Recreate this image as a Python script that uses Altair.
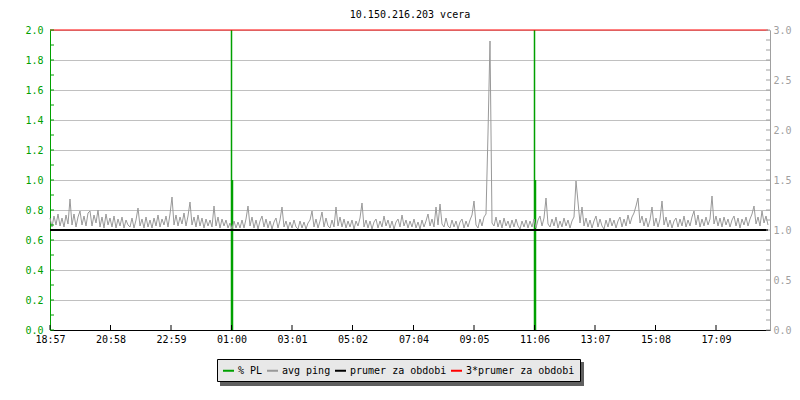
import altair as alt
import pandas as pd

FONT = "DejaVu Sans Mono"
title_text = "10.150.216.203 vcera"

# time axis
start_time = "2000-01-01 18:57"
tick_labels = ["18:57", "20:58", "22:59", "01:00", "03:01", "05:02",
               "07:04", "09:05", "11:06", "13:07", "15:08", "17:09"]
sample_step_min = 4

# avg ping (right axis units), one value every 4 minutes from 18:57
ping_ms = [
    1.12, 1.03, 1.14, 1.05, 1.16, 1.04, 1.12, 1.03, 1.15, 1.06,
    1.31, 1.05, 1.16, 1.03, 1.13, 1.19, 1.05, 1.14, 1.04, 1.17,
    1.19, 1.04, 1.15, 1.07, 1.20, 1.03, 1.13, 1.02, 1.16, 1.05,
    1.12, 1.03, 1.14, 1.02, 1.11, 1.04, 1.13, 1.02, 1.10, 1.05,
    1.03, 1.12, 1.02, 1.10, 1.22, 1.04, 1.11, 1.02, 1.13, 1.03,
    1.10, 1.02, 1.12, 1.04, 1.15, 1.03, 1.11, 1.05, 1.14, 1.03,
    1.16, 1.33, 1.05, 1.15, 1.04, 1.13, 1.06, 1.17, 1.04, 1.14,
    1.28, 1.05, 1.13, 1.03, 1.15, 1.04, 1.12, 1.02, 1.11, 1.04,
    1.10, 1.03, 1.24, 1.04, 1.13, 1.02, 1.11, 1.04, 1.10, 1.02,
    1.07, 1.01, 1.09, 1.02, 1.08, 1.02, 1.10, 1.02, 1.11, 1.24,
    1.04, 1.13, 1.02, 1.10, 1.01, 1.09, 1.14, 1.03, 1.11, 1.02,
    1.09, 1.01, 1.08, 1.12, 1.02, 1.10, 1.23, 1.03, 1.09, 1.01,
    1.08, 1.02, 1.10, 1.03, 1.01, 1.09, 1.02, 1.08, 1.01, 1.07,
    1.10, 1.19, 1.03, 1.11, 1.02, 1.09, 1.18, 1.03, 1.12, 1.04,
    1.02, 1.10, 1.03, 1.23, 1.04, 1.13, 1.03, 1.11, 1.02, 1.09,
    1.03, 1.10, 1.01, 1.09, 1.04, 1.12, 1.27, 1.03, 1.10, 1.02,
    1.09, 1.01, 1.08, 1.11, 1.02, 1.09, 1.03, 1.14, 1.04, 1.10,
    1.02, 1.09, 1.01, 1.08, 1.11, 1.03, 1.15, 1.04, 1.10, 1.02,
    1.09, 1.03, 1.11, 1.02, 1.08, 1.01, 1.10, 1.03, 1.09, 1.16,
    1.04, 1.11, 1.03, 1.23, 1.05, 1.26, 1.06, 1.03, 1.12, 1.04,
    1.02, 1.10, 1.03, 1.09, 1.01, 1.08, 1.11, 1.02, 1.09, 1.03,
    1.10, 1.15, 1.29, 1.05, 1.02, 1.11, 1.04, 1.13, 1.16, 1.97,
    2.89, 1.07, 1.04, 1.13, 1.03, 1.10, 1.02, 1.12, 1.04, 1.09,
    1.02, 1.10, 1.03, 1.11, 1.04, 1.01, 1.09, 1.03, 1.10, 1.02,
    1.09, 1.03, 1.11, 1.02, 1.10, 1.14, 1.04, 1.12, 1.32, 1.06,
    1.03, 1.11, 1.04, 1.13, 1.02, 1.09, 1.03, 1.12, 1.04, 1.10,
    1.02, 1.09, 1.13, 1.49, 1.28, 1.07, 1.23, 1.04, 1.12, 1.03,
    1.10, 1.02, 1.09, 1.14, 1.03, 1.11, 1.04, 1.01, 1.10, 1.03,
    1.12, 1.04, 1.10, 1.02, 1.09, 1.13, 1.03, 1.11, 1.04, 1.15,
    1.06, 1.13, 1.17, 1.24, 1.32, 1.07, 1.14, 1.04, 1.12, 1.03,
    1.10, 1.23, 1.04, 1.12, 1.03, 1.11, 1.29, 1.05, 1.13, 1.03,
    1.10, 1.02, 1.09, 1.12, 1.03, 1.11, 1.04, 1.14, 1.03, 1.10,
    1.04, 1.13, 1.19, 1.05, 1.15, 1.03, 1.11, 1.04, 1.13, 1.05,
    1.11, 1.34, 1.06, 1.14, 1.04, 1.12, 1.03, 1.13, 1.05, 1.11,
    1.03, 1.10, 1.14, 1.04, 1.12, 1.02, 1.11, 1.05, 1.13, 1.04,
    1.11, 1.16, 1.24, 1.06, 1.13, 1.04, 1.19, 1.07, 1.14, 1.05,
]

# packet loss samples (left axis, %)
pl_times = ["01:00", "01:02", "11:06", "11:08"]
pl_values = [2.0, 1.0, 2.0, 1.0]

avg_ping = 1.0  # prumer za obdobi (right axis)

series_names = ["% PL", "avg ping", "prumer za obdobi", "3*prumer za obdobi"]
series_colors = ["#00a000", "#999999", "#000000", "#ff0000"]

left_label_values = [0.0, 0.2, 0.4, 0.6, 0.8, 1.0, 1.2, 1.4, 1.6, 1.8, 2.0]
left_tick_values = [0.0, 0.1, 0.2, 0.3, 0.4, 0.5, 0.6, 0.7, 0.8, 0.9, 1.0,
                    1.1, 1.2, 1.3, 1.4, 1.5, 1.6, 1.7, 1.8, 1.9, 2.0]
right_label_values = [0.0, 0.5, 1.0, 1.5, 2.0, 2.5, 3.0]
right_tick_values = [0.0, 0.1, 0.2, 0.3, 0.4, 0.5, 0.6, 0.7, 0.8, 0.9, 1.0,
                     1.1, 1.2, 1.3, 1.4, 1.5, 1.6, 1.7, 1.8, 1.9, 2.0,
                     2.1, 2.2, 2.3, 2.4, 2.5, 2.6, 2.7, 2.8, 2.9, 3.0]

# ---------------- helpers / tables ----------------
t0 = pd.Timestamp(start_time)


def clock_to_ts(hhmm):
    h, m = (int(p) for p in hhmm.split(":"))
    day = 1 if h >= 18 else 2
    return pd.Timestamp(year=2000, month=1, day=day, hour=h, minute=m)


def to_dt(ts):
    return alt.DateTime(year=ts.year, month=ts.month, date=ts.day,
                        hours=ts.hour, minutes=ts.minute)


tick_ts = [clock_to_ts(s) for s in tick_labels]
end_ts = t0 + pd.Timedelta(days=1)

ping_df = pd.DataFrame({
    "t": [t0 + pd.Timedelta(minutes=i * sample_step_min) for i in range(len(ping_ms))],
    "v": ping_ms,
    "series": series_names[1],
})
pl_df = pd.DataFrame({"t": [clock_to_ts(s) for s in pl_times], "v": pl_values,
                      "series": series_names[0]})
lt_df = pd.DataFrame({"v": left_tick_values})
rt_df = pd.DataFrame({"v": right_tick_values})
xt_df = pd.DataFrame({"t": tick_ts})
one_df = pd.DataFrame({"a": [0]})

GREEN = series_colors[0]
GRAY_AXIS = "#a0a0a0"

x_scale = alt.Scale(domain=[to_dt(t0), to_dt(end_ts)], nice=False)
yl = alt.Scale(domain=[0, 2], nice=False)
yr = alt.Scale(domain=[0, 3], nice=False)
color_scale = alt.Scale(domain=series_names, range=series_colors)

# the same x axis definition is given to every layer so the shared axis merges cleanly
x_axis = alt.Axis(
    values=[to_dt(ts) for ts in tick_ts], format="%H:%M",
    grid=False, ticks=False, domainColor="black", domainWidth=1,
    labelPadding=4, labelFlush=False, labelFont=FONT, labelFontSize=10,
    labelColor="black", title=None, labelOverlap=False,
)
left_axis = alt.Axis(
    orient="left", values=left_label_values, format=".1f",
    grid=True, gridColor="#c0c0c0", gridWidth=1, ticks=False,
    domainColor=GREEN, labelColor=GREEN, labelPadding=7,
    labelFont=FONT, labelFontSize=10, title=None,
)
right_axis = alt.Axis(
    orient="right", values=right_label_values, format=".1f",
    grid=False, ticks=False, domainColor=GRAY_AXIS, labelColor=GRAY_AXIS,
    labelPadding=3, labelFont=FONT, labelFontSize=10, title=None,
)
legend = alt.Legend(
    orient="none", legendX=167, legendY=329, direction="horizontal",
    title=None, symbolType="stroke", symbolStrokeWidth=2, symbolSize=121,
    labelFont=FONT, labelFontSize=10, labelColor="black",
    fillColor="#e8e8e8", strokeColor="black", padding=5,
    columnPadding=0, labelOffset=3, columns=4,
)
color_enc = alt.Color("series:N", scale=color_scale, legend=legend)

# ---------- left (% PL) side ----------
pl = alt.Chart(pl_df).mark_rule(strokeWidth=1.5).encode(
    x=alt.X("t:T", scale=x_scale, axis=x_axis),
    y=alt.Y("v:Q", scale=yl, axis=left_axis),
    y2=alt.datum(0),
    color=color_enc,
)
left_ticks = alt.Chart(lt_df).mark_rule(color=GREEN).encode(
    y=alt.Y("v:Q", scale=yl, axis=None), x=alt.value(0), x2=alt.value(4)
)
bottom_ticks = alt.Chart(xt_df).mark_rule(color="black").encode(
    x=alt.X("t:T", scale=x_scale, axis=x_axis), y=alt.value(295), y2=alt.value(300)
)

# ---------- right (ping) side ----------
ping = alt.Chart(ping_df).mark_line(strokeWidth=1).encode(
    x=alt.X("t:T", scale=x_scale, axis=x_axis),
    y=alt.Y("v:Q", scale=yr, axis=right_axis),
    color=color_enc,
)
avg_line = alt.Chart(ping_df).transform_aggregate(
    ta="min(t)", tb="max(t)"
).transform_calculate(
    v=f"{avg_ping}", series=f"'{series_names[2]}'"
).mark_rule(strokeWidth=2).encode(
    x=alt.X("ta:T", scale=x_scale, axis=x_axis), x2="tb:T",
    y=alt.Y("v:Q", scale=yr, axis=None),
    color=color_enc,
)
triple_line = alt.Chart(ping_df).transform_aggregate(
    ta="min(t)", tb="max(t)"
).transform_calculate(
    v=f"3*{avg_ping}", series=f"'{series_names[3]}'"
).mark_rule(strokeWidth=1).encode(
    x=alt.X("ta:T", scale=x_scale, axis=x_axis), x2="tb:T",
    y=alt.Y("v:Q", scale=yr, axis=None),
    color=color_enc,
)
right_ticks = alt.Chart(rt_df).mark_rule(color=GRAY_AXIS).encode(
    y=alt.Y("v:Q", scale=yr, axis=None), x=alt.value(716), x2=alt.value(720)
)

# legend drop shadow (decoration only)
shadow = alt.Chart(one_df).mark_rect(color="#606060").encode(
    x=alt.value(170), x2=alt.value(534), y=alt.value(332), y2=alt.value(356)
)

chart = alt.layer(
    pl, ping, avg_line, triple_line, left_ticks, right_ticks, bottom_ticks, shadow
).resolve_scale(
    y="independent"
).properties(
    width=720, height=300,
    padding={"left": 42, "top": 22, "right": 22, "bottom": 60},
    autosize=alt.AutoSizeParams(type="none"),
    title=alt.TitleParams(
        text=title_text, font=FONT, fontSize=10, fontWeight="normal",
        color="black", anchor="middle", baseline="top", offset=5,
    ),
).configure(
    background="white"
).configure_view(stroke=None)

chart.save("out.html", embed_options={"renderer": "svg", "actions": False})
